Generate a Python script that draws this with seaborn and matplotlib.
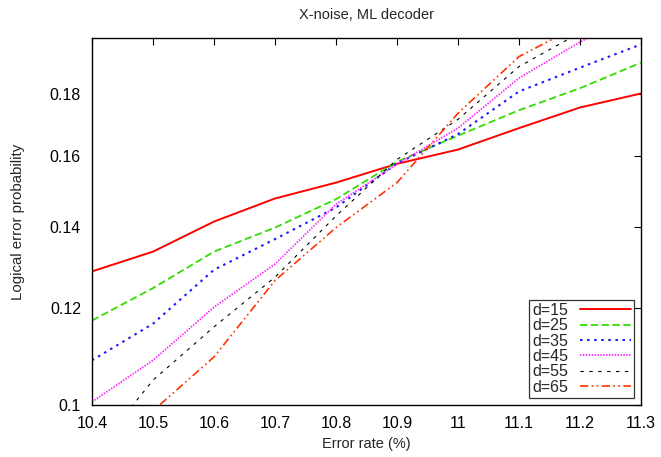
import numpy as np
import pandas as pd
import matplotlib
matplotlib.use("Agg")
import matplotlib.pyplot as plt
import seaborn as sns
from matplotlib.ticker import NullLocator

# error rate (%)
error_rate = [10.4, 10.5, 10.6, 10.7, 10.8, 10.9, 11.0, 11.1, 11.2, 11.3]

# logical error probability per code distance
d15 = [0.1287, 0.1336, 0.1414, 0.1477, 0.1522, 0.1577, 0.1620, 0.1687, 0.1754, 0.1801]
d25 = [0.1173, 0.1247, 0.1336, 0.1398, 0.1475, 0.1583, 0.1663, 0.1745, 0.1819, 0.1909]
d35 = [0.1088, 0.1166, 0.1291, 0.1368, 0.1452, 0.1578, 0.1668, 0.1808, 0.1891, 0.1976]
d45 = [0.1006, 0.1088, 0.1203, 0.1305, 0.1461, 0.1576, 0.1687, 0.1854, 0.1985, 0.2105]
d55 = [0.0909, 0.1048, 0.1159, 0.1273, 0.1429, 0.1590, 0.1715, 0.1895, 0.2020, 0.2150]
d65 = [0.0905, 0.0989, 0.1095, 0.1265, 0.1398, 0.1522, 0.1735, 0.1931, 0.2050, 0.2200]

labels = ["d=15", "d=25", "d=35", "d=45", "d=55", "d=65"]
series = [d15, d25, d35, d45, d55, d65]

y_ticks = [0.1, 0.12, 0.14, 0.16, 0.18]
y_tick_labels = ["0.1", "0.12", "0.14", "0.16", "0.18"]
x_tick_labels = ["10.4", "10.5", "10.6", "10.7", "10.8", "10.9", "11", "11.1", "11.2", "11.3"]

df = pd.concat(
    [pd.DataFrame({"rate": error_rate, "p": s, "d": lab}) for lab, s in zip(labels, series)],
    ignore_index=True,
)

sns.set_style("white")
plt.rcParams["font.family"] = ["Liberation Sans", "DejaVu Sans"]

palette = {
    "d=15": "#ff0000",
    "d=25": "#33dd00",
    "d=35": "#1a1aff",
    "d=45": "#ff22ff",
    "d=55": "#000000",
    "d=65": "#ff3300",
}
dashes = {
    "d=15": "",
    "d=25": (4, 2),
    "d=35": (1.2, 2.2),
    "d=45": (0.8, 0.8),
    "d=55": (3, 5),
    "d=65": (5, 2, 1, 2, 1, 2),
}
widths = {"d=15": 1.4, "d=25": 1.3, "d=35": 1.5, "d=45": 1.3, "d=55": 0.8, "d=65": 1.2}

fig = plt.figure(figsize=(6.61, 4.57), dpi=100)
ax = fig.add_axes([92 / 661, 1 - 405 / 457, (641 - 92) / 661, (405 - 38) / 457])

sns.lineplot(data=df, x="rate", y="p", hue="d", style="d",
             palette=palette, dashes=dashes, ax=ax, legend=True)
for line, lab in zip(ax.get_lines(), labels):
    line.set_linewidth(widths[lab])

ax.set_yscale("log")
ax.set_xlim(10.4, 11.3)
ax.set_ylim(0.1, 0.2)
ax.set_yticks(y_ticks, y_tick_labels)
ax.yaxis.set_minor_locator(NullLocator())
ax.set_xticks(error_rate, x_tick_labels)
ax.tick_params(direction="in", top=True, right=True, length=5, width=0.8,
               labelsize=11.5, colors="black", pad=8)

for sp in ax.spines.values():
    sp.set_color("black")
    sp.set_linewidth(1.0)

ax.set_xlabel("Error rate (%)", fontsize=10.5, labelpad=4)
ax.set_ylabel("Logical error probability", fontsize=10.8, labelpad=18)
ax.set_title("X-noise, ML decoder", fontsize=10.5, pad=14)

handles, _ = ax.get_legend_handles_labels()
for h, lab in zip(handles, labels):
    h.set_linewidth(widths[lab])
leg = ax.legend(handles, labels, loc="lower right", markerfirst=False,
                fontsize=11.5, frameon=True, fancybox=False, edgecolor="black",
                handlelength=3.2, labelspacing=0.02, borderpad=0.2,
                handletextpad=0.7, borderaxespad=0.45)
leg.get_frame().set_linewidth(0.9)

fig.savefig("out.png", dpi=100)
